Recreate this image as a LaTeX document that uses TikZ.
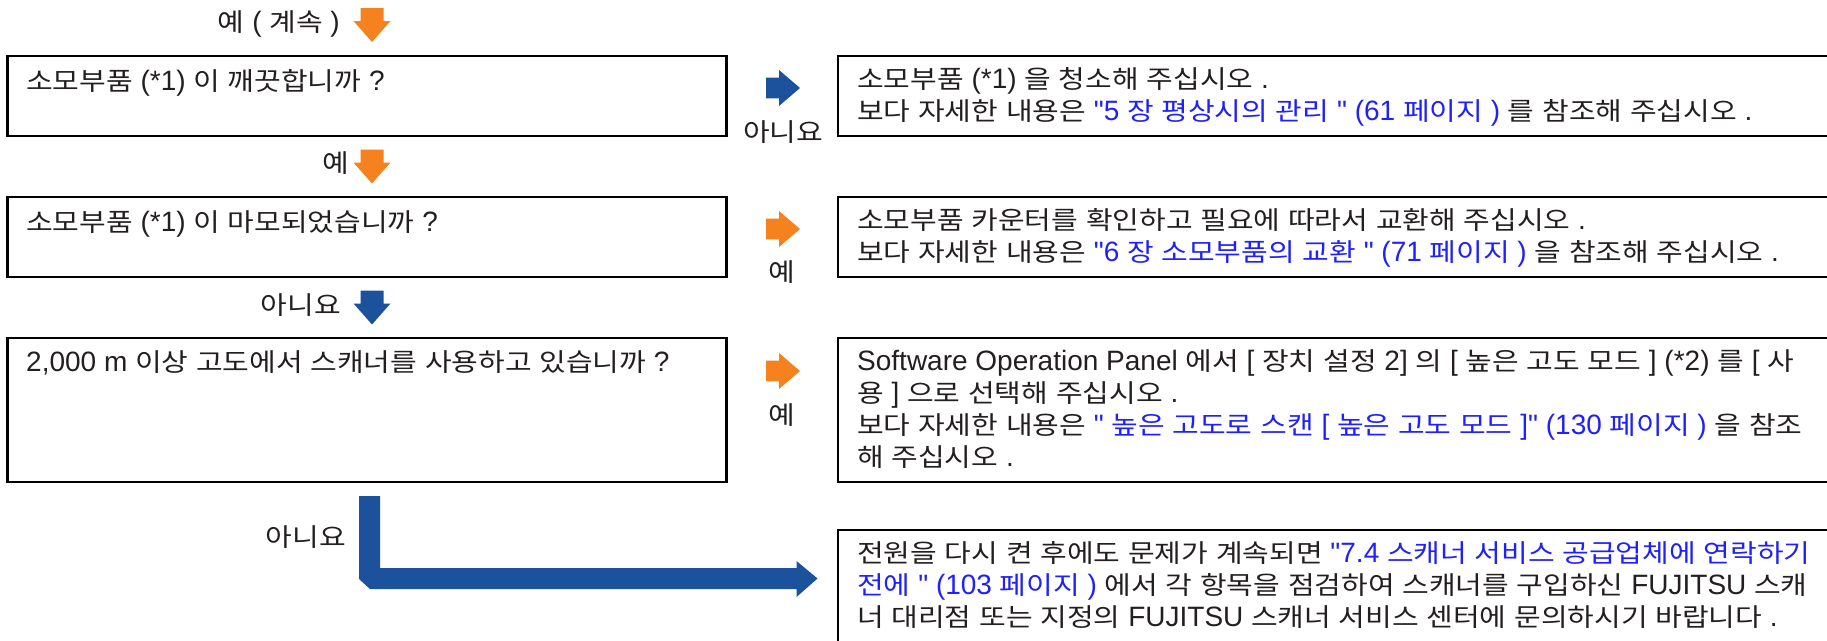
\documentclass[tikz,border=0pt]{standalone}
\usepackage{fontspec}
\setmainfont{Liberation Sans}[Ligatures=TeXOff]
\newfontfamily\hangulfont[Scale=0.9,FakeStretch=1.15]{Noto Sans CJK KR}
\XeTeXinterchartokenstate=1
\newXeTeXintercharclass\HangulCls
\newcount\hcnt
\hcnt="AC00
\loop
  \XeTeXcharclass\hcnt=\HangulCls
  \advance\hcnt by 1
\ifnum\hcnt<"D7A4 \repeat
\XeTeXinterchartoks 0 \HangulCls = {\begingroup\hangulfont}
\XeTeXinterchartoks 4095 \HangulCls = {\begingroup\hangulfont}
\XeTeXinterchartoks \HangulCls 0 = {\endgroup}
\XeTeXinterchartoks \HangulCls 4095 = {\endgroup}
\definecolor{orangeA}{RGB}{245,130,31}
\definecolor{blueA}{RGB}{28,81,156}
\definecolor{lnk}{RGB}{32,32,250}
\definecolor{txtc}{RGB}{35,31,32}
\newcommand{\lnk}[1]{\textcolor{lnk}{#1}}
\tikzset{
  box/.style={draw=black, line width=2.6pt, rectangle, inner sep=0pt, outer sep=0pt, anchor=north west},
  txt/.style={anchor=base west, inner sep=0pt, text=txtc, font=\fontsize{28}{34}\selectfont},
  lbl/.style={inner sep=0pt, text=txtc, font=\fontsize{28}{34}\selectfont},
  pics/downarr/.style={code={\fill[#1] (-11.5,0) -- (11.5,0) -- (11.5,13) -- (18.5,13) -- (0,34) -- (-18.5,13) -- (-11.5,13) -- cycle;}},
  pics/rightarr/.style={code={\fill[#1] (0,-10.3) -- (13,-10.3) -- (13,-18) -- (34,0) -- (13,18) -- (13,10.3) -- (0,10.3) -- cycle;}},
}
\begin{document}
\begin{tikzpicture}[x=1pt,y=-1pt]
\clip (0,0) rectangle (1827,640);
\fill[white] (0,0) rectangle (1827,640);

% question boxes
\node[box, minimum width=719, minimum height=80] (q1) at (7.5,56) {};
\node[box, minimum width=719, minimum height=80] (q2) at (7.5,197) {};
\node[box, minimum width=719, minimum height=144] (q3) at (7.5,338) {};
% answer boxes
\node[box, minimum width=1100, minimum height=80] (r1) at (838,56) {};
\node[box, minimum width=1100, minimum height=80] (r2) at (838,197) {};
\node[box, minimum width=1100, minimum height=144] (r3) at (838,338) {};
\node[box, minimum width=1100, minimum height=200] (r4) at (838,530) {};

% question texts
\node[txt] (q1t) at (26,90) {소모부품 (*1) 이 깨끗합니까 ?};
\node[txt] (q2t) at (26,231) {소모부품 (*1) 이 마모되었습니까 ?};
\node[txt] (q3t) at (26,371) {2,000 m 이상 고도에서 스캐너를 사용하고 있습니까 ?};

% answer texts
\node[txt] (r1a) at (857,88) {소모부품 (*1) 을 청소해 주십시오 .};
\node[txt] (r1b) at (857,120) {보다 자세한 내용은 \lnk{"5 장 평상시의 관리 " (61 페이지 )} 를 참조해 주십시오 .};
\node[txt] (r2a) at (857,229) {소모부품 카운터를 확인하고 필요에 따라서 교환해 주십시오 .};
\node[txt] (r2b) at (857,261) {보다 자세한 내용은 \lnk{"6 장 소모부품의 교환 " (71 페이지 )} 을 참조해 주십시오 .};
\node[txt] (r3a) at (857,370) {Software Operation Panel 에서 [ 장치 설정 2] 의 [ 높은 고도 모드 ] (*2) 를 [ 사};
\node[txt] (r3b) at (857,402) {용 ] 으로 선택해 주십시오 .};
\node[txt] (r3c) at (857,434) {보다 자세한 내용은 \lnk{" 높은 고도로 스캔 [ 높은 고도 모드 ]" (130 페이지 )} 을 참조};
\node[txt] (r3d) at (857,466) {해 주십시오 .};
\node[txt] (r4a) at (857,562) {전원을 다시 켠 후에도 문제가 계속되면 \lnk{"7.4 스캐너 서비스 공급업체에 연락하기}};
\node[txt] (r4b) at (857,594) {\lnk{전에 " (103 페이지 )} 에서 각 항목을 점검하여 스캐너를 구입하신 FUJITSU 스캐};
\node[txt] (r4c) at (857,626) {너 대리점 또는 지정의 FUJITSU 스캐너 서비스 센터에 문의하시기 바랍니다 .};

% labels
\node[lbl, anchor=base east] (l0) at (340,31) {예 ( 계속 )};
\node[lbl, anchor=base east] (l1) at (349,172) {예};
\node[lbl, anchor=base east] (l2) at (341,314) {아니요};
\node[lbl, anchor=base east] (l3) at (346,546) {아니요};
\node[lbl, anchor=base] (l4) at (783,141) {아니요};
\node[lbl, anchor=base] (l5) at (782,281) {예};
\node[lbl, anchor=base] (l6) at (782,424) {예};

% block arrows
\pic (a0) at (372,8) {downarr=orangeA};
\pic (a1) at (372,149.5) {downarr=orangeA};
\pic (a2) at (372,290.5) {downarr=blueA};
\pic (b1) at (766,88) {rightarr=blueA};
\pic (b2) at (766,229) {rightarr=orangeA};
\pic (b3) at (766,371) {rightarr=orangeA};
\fill[blueA] (359,496) -- (380,496) -- (380,568) -- (796.5,568) -- (796.5,561) -- (817.5,578.5) -- (796.5,597) -- (796.5,589) -- (370,589) -- (359,579) -- cycle;
\end{tikzpicture}
\end{document}
